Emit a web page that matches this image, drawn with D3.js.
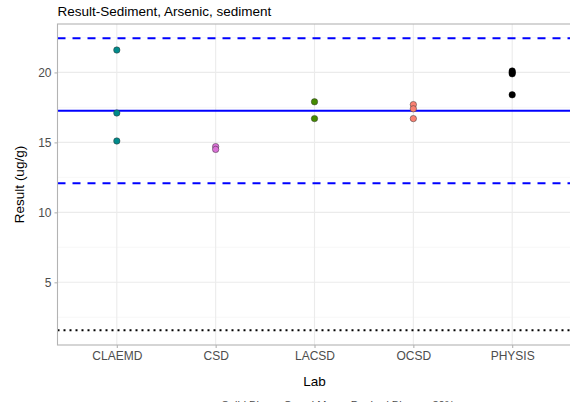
<!DOCTYPE html>
<html><head><meta charset="utf-8">
<script src="https://cdn.jsdelivr.net/npm/d3@7"></script>
<style>body{margin:0;background:#fff;} svg{display:block;font-family:"Liberation Sans",Arial,sans-serif;}</style>
</head><body>
<svg id="chart" width="570" height="402"></svg>
<script>
const labs = ["CLAEMD","CSD","LACSD","OCSD","PHYSIS"];
const labColors = ["#008B8B","#DA70D6","#458B00","#FA8072","#000000"];
const pointLab = ["CLAEMD","CLAEMD","CLAEMD","CSD","CSD","LACSD","LACSD","OCSD","OCSD","OCSD","PHYSIS","PHYSIS","PHYSIS","PHYSIS"];
const pointValue = [21.6,17.1,15.1,14.7,14.5,17.9,16.7,17.7,17.4,16.7,20.1,20.0,19.9,18.4];
const yTicks = [5,10,15,20];
const yMinorTicks = [2.5,7.5,12.5,17.5,22.5];
const grandMean = 17.26;
const upperLimit = 22.44;
const lowerLimit = 12.08;
const mdl = 1.57;
const title = "Result-Sediment, Arsenic, sediment";
const xTitle = "Lab";
const yTitle = "Result (ug/g)";
const caption = "Solid Blue = Grand Mean, Dashed Blue = ±30%";

const svg = d3.select("#chart");
const L = 57.5, R = 571.5, T = 24, B = 345;
const x = d3.scalePoint().domain(labs).range([L, R]).padding(0.6);
const y = d3.scaleLinear().domain([0.52, 23.46]).range([B, T]);
const color = d3.scaleOrdinal().domain(labs).range(labColors);

// grid
svg.append("g").selectAll("line").data(yMinorTicks).join("line")
  .attr("x1", L).attr("x2", R).attr("y1", d=>y(d)).attr("y2", d=>y(d))
  .attr("stroke", "#F3F3F3").attr("stroke-width", 0.6);
svg.append("g").selectAll("line").data(yTicks).join("line")
  .attr("x1", L).attr("x2", R).attr("y1", d=>y(d)).attr("y2", d=>y(d))
  .attr("stroke", "#EBEBEB").attr("stroke-width", 1.1);
svg.append("g").selectAll("line").data(labs).join("line")
  .attr("x1", d=>x(d)).attr("x2", d=>x(d)).attr("y1", T).attr("y2", B)
  .attr("stroke", "#EBEBEB").attr("stroke-width", 1.1);

// reference lines
const hl = (v, dash, col, w) => svg.append("line")
  .attr("x1", L).attr("x2", R).attr("y1", y(v)).attr("y2", y(v))
  .attr("stroke", col).attr("stroke-width", w).attr("stroke-dasharray", dash);
hl(upperLimit, "8,7", "#0000FF", 2);
hl(lowerLimit, "8,7", "#0000FF", 2);
hl(grandMean, null, "#0000FF", 2.2);
hl(mdl, "2,4", "#000000", 2);

// points
svg.append("g").selectAll("circle").data(pointValue).join("circle")
  .attr("cx", (d,i)=>x(pointLab[i])).attr("cy", d=>y(d)).attr("r", 3.2)
  .attr("fill", (d,i)=>color(pointLab[i]))
  .attr("stroke", (d,i)=> pointLab[i]==="PHYSIS" ? "#000" : "#333")
  .attr("stroke-opacity", 0.7).attr("stroke-width", 0.7);

// panel border
svg.append("rect").attr("x", L).attr("y", T).attr("width", R-L).attr("height", B-T)
  .attr("fill", "none").attr("stroke", "#B3B3B3").attr("stroke-width", 1.1);

// axes
const yAxis = svg.append("g").attr("transform", `translate(${L},0)`)
  .call(d3.axisLeft(y).tickValues(yTicks).tickSize(3).tickPadding(3));
const xAxis = svg.append("g").attr("transform", `translate(0,${B})`)
  .call(d3.axisBottom(x).tickSize(3).tickPadding(3));
[yAxis, xAxis].forEach(a => {
  a.select(".domain").remove();
  a.selectAll(".tick line").attr("stroke", "#B3B3B3").attr("stroke-width", 1.1);
  a.selectAll(".tick text").attr("fill", "#4D4D4D").style("font-size", "12px")
   .style("font-family", "Liberation Sans, Arial, sans-serif");
});

// titles
svg.append("text").attr("x", L).attr("y", 16).text(title)
  .attr("fill", "#000").style("font-size", "13.5px");
svg.append("text").attr("x", (L+R)/2).attr("y", 386).attr("text-anchor", "middle")
  .text(xTitle).attr("fill", "#000").style("font-size", "13.5px");
svg.append("text").attr("transform", `translate(24,${(T+B)/2}) rotate(-90)`)
  .attr("text-anchor", "middle").text(yTitle).attr("fill", "#000").style("font-size", "13.5px");
svg.append("text").attr("x", 338).attr("y", 408.5).attr("text-anchor", "middle")
  .text(caption).attr("fill", "#4D4D4D").style("font-size", "11px");
</script>
</body></html>
